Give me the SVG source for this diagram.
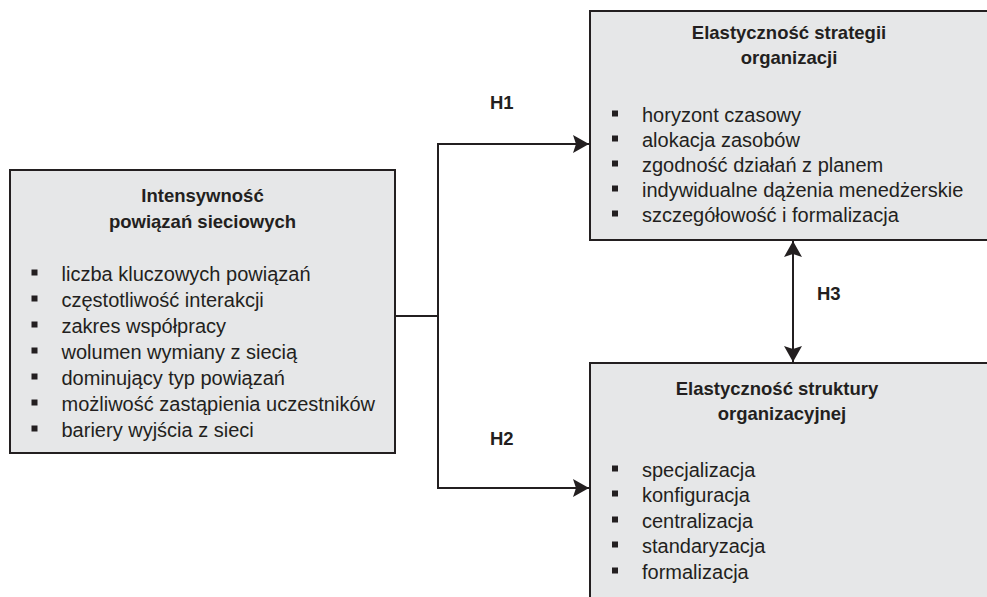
<svg xmlns="http://www.w3.org/2000/svg" width="987" height="597" viewBox="0 0 987 597">
<style>
.box{fill:#e6e7e8;stroke:#231f20;stroke-width:2}
.t{font-family:"Liberation Sans",Arial,sans-serif;font-size:18.5px;font-weight:bold;fill:#231f20;text-anchor:middle}
.i{font-family:"Liberation Sans",Arial,sans-serif;font-size:20px;fill:#231f20}
.h{font-family:"Liberation Sans",Arial,sans-serif;font-size:18.5px;font-weight:bold;fill:#231f20}
.b{fill:#231f20}
.c{fill:none;stroke:#231f20;stroke-width:2}
</style>
<defs>
<marker id="arr" markerUnits="userSpaceOnUse" markerWidth="16" markerHeight="18" refX="16" refY="9" orient="auto-start-reverse">
<path d="M0,0 L16,9 L0,18 L3,9 Z" fill="#231f20"/>
</marker>
</defs>
<g id="connectors">
<path class="c" d="M395,316 H438 M438,143 V489"/>
<path class="c" d="M437,144 H589" marker-end="url(#arr)"/>
<path class="c" d="M437,488 H589" marker-end="url(#arr)"/>
<path class="c" d="M793,241 V362" marker-start="url(#arr)" marker-end="url(#arr)"/>
<text class="h" x="490" y="109">H1</text>
<text class="h" x="490" y="445">H2</text>
<text class="h" x="817" y="300">H3</text>
</g>
<g id="node-intensywnosc">
<rect class="box" x="10" y="170" width="385" height="283"/>
<text class="t" x="202.5" y="202">Intensywność</text>
<text class="t" x="202.5" y="228">powiązań sieciowych</text>
<rect class="b" x="31.5" y="269.5" width="6" height="6"/>
<text class="i" x="61.5" y="281">liczba kluczowych powiązań</text>
<rect class="b" x="31.5" y="295.5" width="6" height="6"/>
<text class="i" x="61.5" y="307">częstotliwość interakcji</text>
<rect class="b" x="31.5" y="321.5" width="6" height="6"/>
<text class="i" x="61.5" y="333">zakres współpracy</text>
<rect class="b" x="31.5" y="347.5" width="6" height="6"/>
<text class="i" x="61.5" y="359">wolumen wymiany z siecią</text>
<rect class="b" x="31.5" y="373.5" width="6" height="6"/>
<text class="i" x="61.5" y="385">dominujący typ powiązań</text>
<rect class="b" x="31.5" y="399.5" width="6" height="6"/>
<text class="i" x="61.5" y="411">możliwość zastąpienia uczestników</text>
<rect class="b" x="31.5" y="425.5" width="6" height="6"/>
<text class="i" x="61.5" y="437">bariery wyjścia z sieci</text>
</g>
<g id="node-strategia">
<rect class="box" x="590" y="11" width="420" height="229"/>
<text class="t" x="789" y="39">Elastyczność strategii</text>
<text class="t" x="789" y="64">organizacji</text>
<rect class="b" x="612" y="110.5" width="6" height="6"/>
<text class="i" x="642" y="122">horyzont czasowy</text>
<rect class="b" x="612" y="135.5" width="6" height="6"/>
<text class="i" x="642" y="147">alokacja zasobów</text>
<rect class="b" x="612" y="160.5" width="6" height="6"/>
<text class="i" x="642" y="172">zgodność działań z planem</text>
<rect class="b" x="612" y="185.5" width="6" height="6"/>
<text class="i" x="642" y="197">indywidualne dążenia menedżerskie</text>
<rect class="b" x="612" y="210.5" width="6" height="6"/>
<text class="i" x="642" y="222">szczegółowość i formalizacja</text>
</g>
<g id="node-struktura">
<rect class="box" x="590" y="363" width="420" height="260"/>
<text class="t" x="777" y="395">Elastyczność struktury</text>
<text class="t" x="782" y="420">organizacyjnej</text>
<rect class="b" x="612" y="465.5" width="6" height="6"/>
<text class="i" x="642" y="477">specjalizacja</text>
<rect class="b" x="612" y="490.5" width="6" height="6"/>
<text class="i" x="642" y="502">konfiguracja</text>
<rect class="b" x="612" y="516.5" width="6" height="6"/>
<text class="i" x="642" y="528">centralizacja</text>
<rect class="b" x="612" y="541.5" width="6" height="6"/>
<text class="i" x="642" y="553">standaryzacja</text>
<rect class="b" x="612" y="567.5" width="6" height="6"/>
<text class="i" x="642" y="579">formalizacja</text>
</g>
</svg>
